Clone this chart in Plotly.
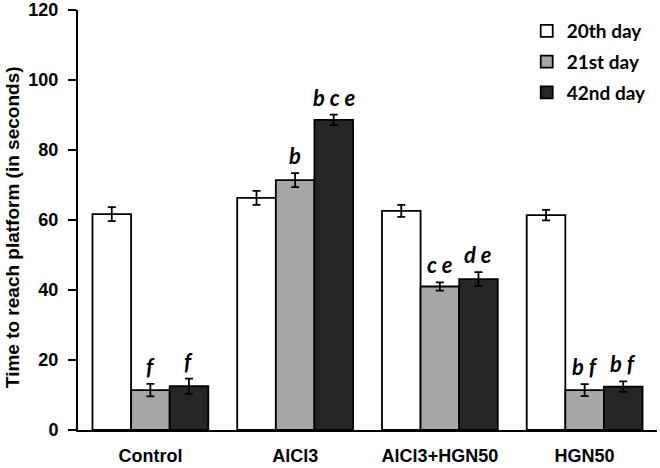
import plotly.graph_objects as go

categories = ["Control", "AlCl3", "AlCl3+HGN50", "HGN50"]
series_names = ["20th day", "21st day", "42nd day"]
day20 = [61.7, 66.3, 62.6, 61.4]
day20_err = [2.0, 2.0, 1.7, 1.5]
day21 = [11.4, 71.4, 41.0, 11.4]
day21_err = [1.8, 2.0, 1.2, 1.7]
day42 = [12.5, 88.6, 43.1, 12.4]
day42_err = [2.2, 1.5, 2.0, 1.5]
labels21 = ["f", "b", "c e", "b f"]
labels42 = ["f", "b c e", "d e", "b f"]
yticks = [0, 20, 40, 60, 80, 100, 120]

colors = ["#ffffff", "#a6a6a6", "#262626"]
values = [day20, day21, day42]
errs = [day20_err, day21_err, day42_err]
xs = list(range(len(categories)))

bargap = 0.2
fig = go.Figure()
for name, v, e, c in zip(series_names, values, errs, colors):
    fig.add_trace(go.Bar(
        x=xs, y=v, name=f"<b>{name}</b>", legendgroup=name,
        marker=dict(color=c, line=dict(color="black", width=1.8)),
        error_y=dict(type="data", array=e, visible=True, color="black", thickness=1.8, width=4),
    ))

w = (1 - bargap) / 3
annots = []
for k, (labs, v, e) in enumerate([(labels21, day21, day21_err), (labels42, day42, day42_err)]):
    for i in xs:
        annots.append(dict(
            x=i + k * w, y=v[i] + e[i], xref="x", yref="y",
            text=f"<b><i>{labs[i].replace(' ', '&nbsp;')}</i></b>",
            showarrow=False, yanchor="bottom", yshift=2,
            font=dict(family="Lato", size=22, color="black"),
        ))

annots.append(dict(
    x=-0.114, y=0.483, xref="paper", yref="paper", textangle=-90,
    text="<b>Time to reach platform (in seconds)</b>", showarrow=False,
    xanchor="center", yanchor="middle",
    font=dict(family="Liberation Sans", size=19, color="black"),
))

fig.update_layout(
    width=660, height=468,
    margin=dict(l=78, r=3, t=10, b=38),
    paper_bgcolor="white", plot_bgcolor="white",
    barmode="group", bargap=bargap, bargroupgap=0,
    annotations=annots,
    legend=dict(x=0.775, y=0.995, xanchor="left", yanchor="top",
                font=dict(family="Lato", size=19, color="black"),
                itemwidth=30, traceorder="grouped", tracegroupgap=3),
    font=dict(family="Liberation Sans", color="black"),
    showlegend=True,
)
fig.update_xaxes(
    tickvals=xs, ticktext=[f"<b>{c}</b>" for c in categories],
    range=[-0.5, 3.5], showline=True, linecolor="black", linewidth=2,
    ticks="", tickfont=dict(size=18, family="Liberation Sans"), showgrid=False,
    automargin=False, ticklabelstandoff=8,
)
fig.update_yaxes(
    range=[0, 120], tickvals=yticks, ticktext=[f"<b>{t}</b>" for t in yticks],
    showline=True, linecolor="black", linewidth=2, ticks="outside", ticklen=8, tickwidth=2,
    tickcolor="black", showgrid=False, zeroline=False, ticklabelstandoff=6,
    tickfont=dict(size=18, family="Liberation Sans"), automargin=False,
)

fig.write_html("out.html", config={"displayModeBar": False},
               post_script="document.body.style.margin='0';")
